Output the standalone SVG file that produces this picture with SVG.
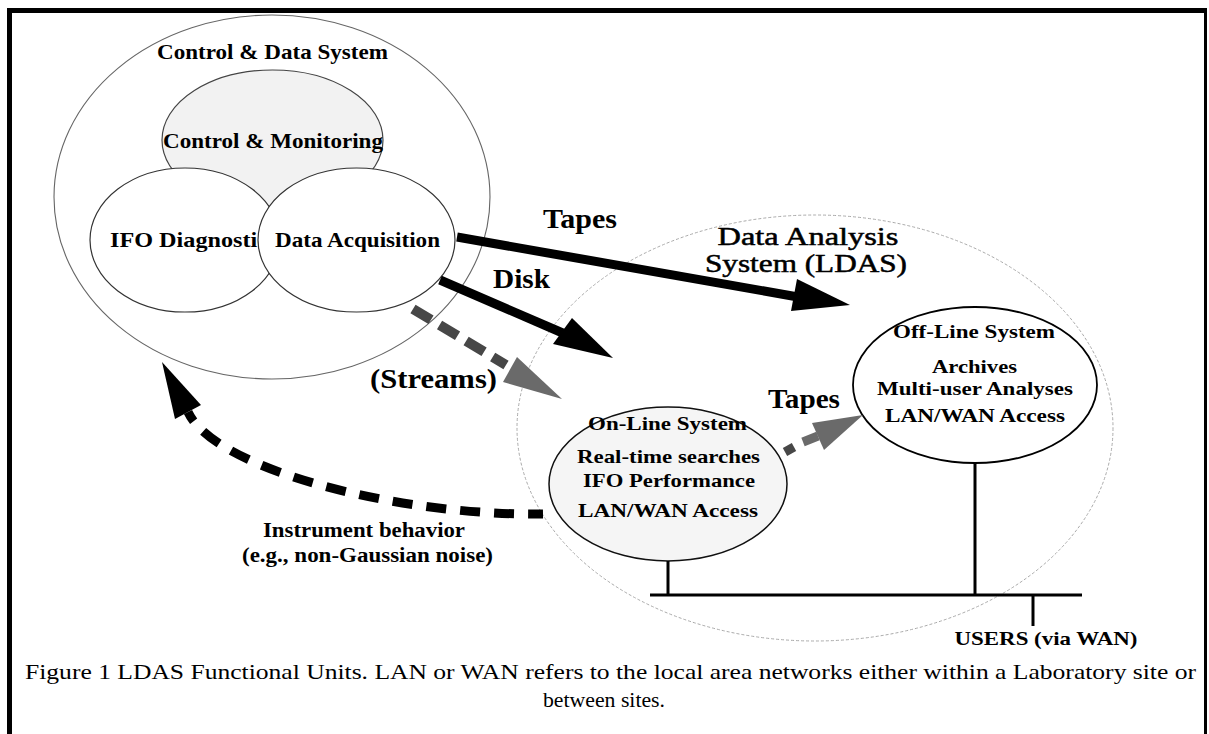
<svg xmlns="http://www.w3.org/2000/svg" width="1209" height="734" viewBox="0 0 1209 734">
<style>
  text { font-family: "Liberation Serif", "Times New Roman", serif; fill: #000; }
  .lbl { font-size: 21px; font-weight: bold; }
  .big { font-size: 27px; font-weight: bold; }
  .sm { font-size: 19px; font-weight: bold; }
  .cap { font-size: 21px; }
  .ldas { font-size: 25px; stroke: #000; stroke-width: 0.5; }
  .ell { stroke: #333; stroke-width: 1.2; fill: #fff; }
  .thin { stroke: #666; stroke-width: 1.1; fill: none; }
  .net { stroke: #000; stroke-width: 3; fill: none; }
</style>
<rect x="0" y="0" width="1209" height="734" fill="#fff"/>
<g id="frame">
  <rect x="7" y="8" width="1200" height="5" fill="#000"/>
  <rect x="7" y="8" width="5" height="726" fill="#000"/>
  <rect x="1204" y="11" width="3" height="723" fill="#000"/>
</g>
<g id="ldas">
  <ellipse cx="815" cy="428" rx="298" ry="213" fill="none" stroke="#aaa" stroke-width="1" stroke-dasharray="3 2"/>
  <text x="808" y="245" class="ldas" text-anchor="middle" textLength="181" lengthAdjust="spacingAndGlyphs">Data Analysis</text>
  <text x="806" y="272" class="ldas" text-anchor="middle" textLength="202" lengthAdjust="spacingAndGlyphs">System (LDAS)</text>
</g>
<g id="cds">
  <ellipse cx="272" cy="197" rx="218" ry="182" class="thin"/>
  <text x="272.5" y="59" class="lbl" text-anchor="middle" textLength="231" lengthAdjust="spacingAndGlyphs">Control &amp; Data System</text>
</g>
<g id="control-monitoring">
  <ellipse cx="272.5" cy="140" rx="110.5" ry="70" fill="#f2f2f2" stroke="#444" stroke-width="1.2"/>
  <text x="273" y="148" class="lbl" text-anchor="middle" textLength="220" lengthAdjust="spacingAndGlyphs">Control &amp; Monitoring</text>
</g>
<g id="ifo-diagnostic">
  <ellipse cx="185" cy="240" rx="95" ry="72" class="ell"/>
  <text x="110" y="247" class="lbl" textLength="158" lengthAdjust="spacingAndGlyphs">IFO Diagnostic</text>
</g>
<g id="data-acquisition">
  <ellipse cx="356.5" cy="240" rx="98.5" ry="72" class="ell"/>
  <text x="357.5" y="247" class="lbl" text-anchor="middle" textLength="165" lengthAdjust="spacingAndGlyphs">Data Acquisition</text>
</g>
<g id="online">
  <ellipse cx="668" cy="484" rx="119" ry="77" fill="#f5f5f5" stroke="#111" stroke-width="1.5"/>
  <text x="667.5" y="430" class="sm" text-anchor="middle" textLength="159" lengthAdjust="spacingAndGlyphs">On-Line System</text>
  <text x="668.5" y="463" class="sm" text-anchor="middle" textLength="183" lengthAdjust="spacingAndGlyphs">Real-time searches</text>
  <text x="669" y="487" class="sm" text-anchor="middle" textLength="172" lengthAdjust="spacingAndGlyphs">IFO Performance</text>
  <text x="668" y="517" class="sm" text-anchor="middle" textLength="180" lengthAdjust="spacingAndGlyphs">LAN/WAN Access</text>
</g>
<g id="offline">
  <ellipse cx="975" cy="385" rx="122" ry="78" fill="#fff" stroke="#000" stroke-width="1.8"/>
  <text x="974" y="338" class="sm" text-anchor="middle" textLength="162" lengthAdjust="spacingAndGlyphs">Off-Line System</text>
  <text x="974.5" y="373" class="sm" text-anchor="middle" textLength="85" lengthAdjust="spacingAndGlyphs">Archives</text>
  <text x="975" y="395" class="sm" text-anchor="middle" textLength="196" lengthAdjust="spacingAndGlyphs">Multi-user Analyses</text>
  <text x="975" y="422" class="sm" text-anchor="middle" textLength="180" lengthAdjust="spacingAndGlyphs">LAN/WAN Access</text>
</g>
<g id="users">
  <text x="1046" y="645" class="sm" text-anchor="middle" textLength="183" lengthAdjust="spacingAndGlyphs">USERS (via WAN)</text>
</g>
<g id="connectors">
  <line x1="668" y1="561" x2="668" y2="595" class="net"/>
  <line x1="975" y1="463" x2="975" y2="595" class="net"/>
  <line x1="650" y1="595" x2="1082" y2="595" class="net"/>
  <line x1="1033" y1="595" x2="1033" y2="626" class="net"/>
  <line x1="457" y1="237" x2="798" y2="297" stroke="#000" stroke-width="9"/>
  <polygon points="850,305 791,311 797,279" fill="#000"/>
  <line x1="440" y1="280" x2="565" y2="334" stroke="#000" stroke-width="9"/>
  <polygon points="613,358 553,344 572,318" fill="#000"/>
  <line x1="413" y1="309" x2="506" y2="365" stroke="#474747" stroke-width="10" stroke-dasharray="21 10"/>
  <polygon points="562,399 503,382 517,357" fill="#6a6a6a"/>
  <line x1="785" y1="452" x2="794" y2="447" stroke="#474747" stroke-width="9"/>
  <line x1="803" y1="442" x2="818" y2="436" stroke="#6a6a6a" stroke-width="9"/>
  <polygon points="863,415 824,450 812,423" fill="#6a6a6a"/>
  <path d="M543,514 C400,516 215,470 188,412" fill="none" stroke="#000" stroke-width="9" stroke-dasharray="20 14" stroke-dashoffset="5"/>
  <polygon points="162,362 201,405 175,419" fill="#000"/>
</g>
<g id="labels">
  <text x="580" y="228" class="big" text-anchor="middle" textLength="74" lengthAdjust="spacingAndGlyphs">Tapes</text>
  <text x="521.5" y="288" class="big" text-anchor="middle" textLength="57" lengthAdjust="spacingAndGlyphs">Disk</text>
  <text x="433.5" y="388" class="big" text-anchor="middle" textLength="127" lengthAdjust="spacingAndGlyphs">(Streams)</text>
  <text x="804" y="408" class="big" text-anchor="middle" textLength="72" lengthAdjust="spacingAndGlyphs">Tapes</text>
  <text x="364" y="537" class="lbl" style="font-size:20px" text-anchor="middle" textLength="202" lengthAdjust="spacingAndGlyphs">Instrument behavior</text>
  <text x="367.5" y="562" class="lbl" style="font-size:20px" text-anchor="middle" textLength="251" lengthAdjust="spacingAndGlyphs">(e.g., non-Gaussian noise)</text>
</g>
<g id="caption">
  <text x="25" y="679" class="cap" textLength="1171" lengthAdjust="spacingAndGlyphs">Figure 1 LDAS Functional Units. LAN or WAN refers to the local area networks either within a Laboratory site or</text>
  <text x="604" y="707" class="cap" text-anchor="middle" textLength="122" lengthAdjust="spacingAndGlyphs">between sites.</text>
</g>
</svg>
